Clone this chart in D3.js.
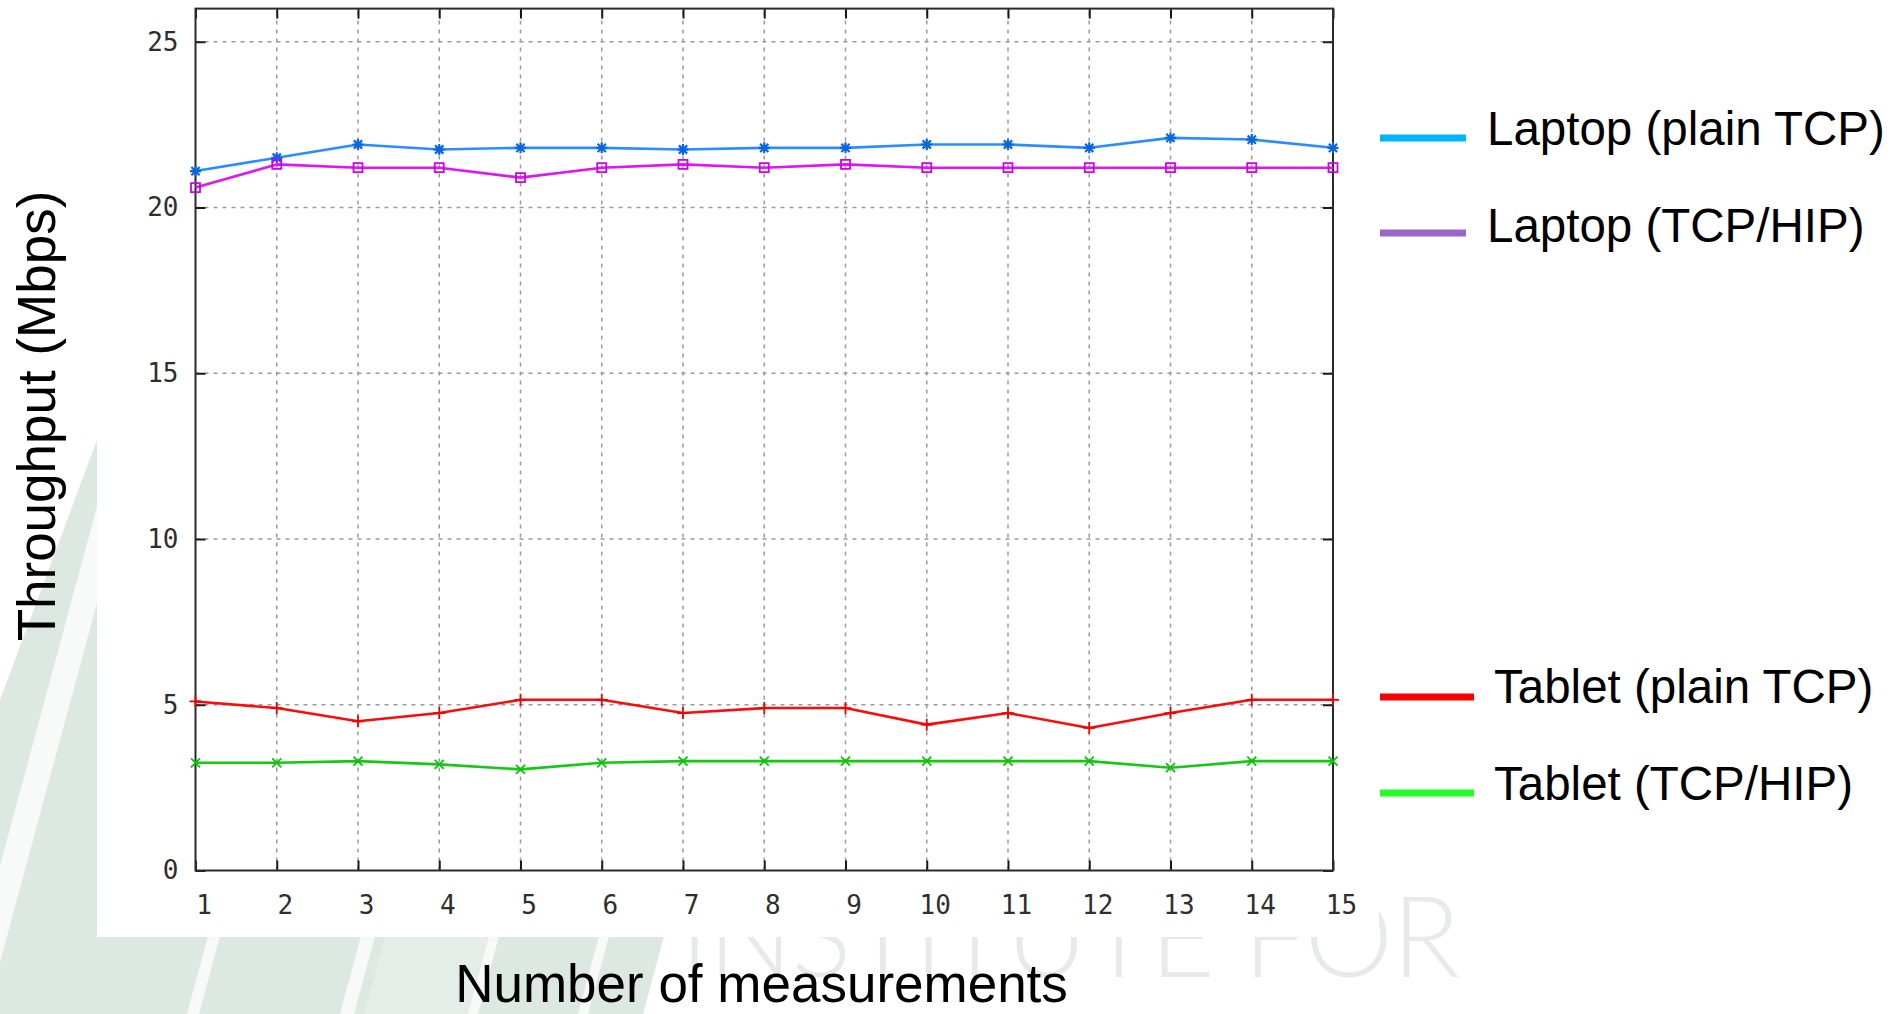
<!DOCTYPE html>
<html>
<head>
<meta charset="utf-8">
<script src="https://cdn.jsdelivr.net/npm/d3@7"></script>
<style>
  html, body { margin: 0; padding: 0; background: #ffffff; }
  svg { display: block; }
</style>
</head>
<body>
<svg id="chart" width="1903" height="1014"></svg>
<script>
// Measurement index (x axis)
const measurements = d3.range(1, 16);

// Throughput per measurement, Mbps
const laptopPlainTCP = [21.1, 21.5, 21.9, 21.75, 21.8, 21.8, 21.75, 21.8, 21.8, 21.9, 21.9, 21.8, 22.1, 22.05, 21.8];
const laptopTCPHIP   = [20.6, 21.3, 21.2, 21.2, 20.9, 21.2, 21.3, 21.2, 21.3, 21.2, 21.2, 21.2, 21.2, 21.2, 21.2];
const tabletPlainTCP = [5.1, 4.9, 4.5, 4.75, 5.15, 5.15, 4.75, 4.9, 4.9, 4.4, 4.75, 4.3, 4.75, 5.15, 5.15];
const tabletTCPHIP   = [3.25, 3.25, 3.3, 3.2, 3.05, 3.25, 3.3, 3.3, 3.3, 3.3, 3.3, 3.3, 3.1, 3.3, 3.3];

// Axis tick values
const yTicks = [0, 5, 10, 15, 20, 25];
const xTicks = measurements;

// Series names
const seriesNames = ["Laptop (plain TCP)", "Laptop (TCP/HIP)", "Tablet (plain TCP)", "Tablet (TCP/HIP)"];

const svg = d3.select("#chart");

// ---------- page backdrop: faint slanted stripes and lettering ----------
const bg = svg.append("g");
const paleGreen = "#dce8e1";
const slope = 0.27; // horizontal shift per pixel of height

// left column wedge
bg.append("path")
  .attr("d", "M97,440 L97,1014 L0,1014 L0,700 Z")
  .attr("fill", paleGreen);
// bottom band
bg.append("path")
  .attr("d", `M0,930 L${643 + slope * 84},930 L643,1014 L0,1014 Z`)
  .attr("fill", paleGreen);
// lighter section of the bottom band
bg.append("path")
  .attr("d", `M${364 + slope * 84},930 L${470 + slope * 84},930 L470,1014 L364,1014 Z`)
  .attr("fill", "#e4ede8");

// white slanted gaps between stripes: [x at bottom edge, width]
const gaps = [[-40, 26], [187, 12], [340, 14], [468, 10], [578, 10]];
gaps.forEach(([x0, w]) => {
  const yTop = 380, yBot = 1014, dx = slope * (yBot - yTop);
  bg.append("path")
    .attr("d", `M${x0},${yBot} L${x0 + w},${yBot} L${x0 + w + dx},${yTop} L${x0 + dx},${yTop} Z`)
    .attr("fill", "#f7faf8");
});

bg.append("text")
  .attr("x", 680).attr("y", 977)
  .attr("textLength", 780).attr("lengthAdjust", "spacing")
  .attr("font-family", "Lato, 'Open Sans', sans-serif")
  .attr("font-weight", 300)
  .attr("font-size", 112)
  .attr("fill", "#e7eae8")
  .text("INSTITUTE FOR");

// white panel behind the plot
svg.append("rect")
  .attr("x", 97).attr("y", 0)
  .attr("width", 1282).attr("height", 937)
  .attr("fill", "#ffffff");

// ---------- plot ----------
const plot = { left: 195.5, right: 1333, top: 8.6, bottom: 870.5 };

const x = d3.scaleLinear().domain([1, 15]).range([plot.left, plot.right]);
const y = d3.scaleLinear().domain([0, 26]).range([plot.bottom, plot.top]);

// dotted grid
const grid = svg.append("g")
  .attr("stroke", "#9a9a9a")
  .attr("stroke-width", 1.5)
  .attr("stroke-dasharray", "4,5");
grid.selectAll(".gx").data(xTicks.slice(1, -1)).join("line")
  .attr("x1", d => x(d)).attr("x2", d => x(d))
  .attr("y1", plot.bottom).attr("y2", plot.top);
grid.selectAll(".gy").data(yTicks.slice(1)).join("line")
  .attr("x1", plot.left).attr("x2", plot.right)
  .attr("y1", d => y(d)).attr("y2", d => y(d));

// axes (ticks pointing inwards on all four sides)
const tickFont = "'DejaVu Sans Mono', monospace";
const axisLeft = svg.append("g")
  .attr("transform", `translate(${plot.left},0)`)
  .call(d3.axisLeft(y).tickValues(yTicks).tickSize(-10).tickPadding(17));
const axisRight = svg.append("g")
  .attr("transform", `translate(${plot.right},0)`)
  .call(d3.axisRight(y).tickValues(yTicks).tickSize(-10).tickFormat(""));
const axisBottom = svg.append("g")
  .attr("transform", `translate(0,${plot.bottom})`)
  .call(d3.axisBottom(x).tickValues(xTicks).tickSize(-10).tickFormat(d3.format("d")));
const axisTop = svg.append("g")
  .attr("transform", `translate(0,${plot.top})`)
  .call(d3.axisTop(x).tickValues(xTicks).tickSize(-10).tickFormat(""));

[axisLeft, axisRight, axisBottom, axisTop].forEach(g => {
  g.select(".domain").remove();
  g.selectAll(".tick line").attr("stroke", "#1a1a1a").attr("stroke-width", 2);
  g.selectAll("text")
    .attr("font-family", tickFont)
    .attr("font-size", 26)
    .attr("fill", "#2e2e2e");
});
// unlabeled mirror axes need no text nodes
axisRight.selectAll("text").remove();
axisTop.selectAll("text").remove();
axisBottom.selectAll("text").attr("y", 43.5).attr("dy", 0).attr("dx", 8);

// frame
svg.append("rect")
  .attr("x", plot.left).attr("y", plot.top)
  .attr("width", plot.right - plot.left).attr("height", plot.bottom - plot.top)
  .attr("fill", "none").attr("stroke", "#2a2a2a").attr("stroke-width", 2);

// series
const series = [
  { name: seriesNames[0], values: laptopPlainTCP, line: "#2a8cff", mark: "#0a66e0", shape: "star",   key: "#00b4ff" },
  { name: seriesNames[1], values: laptopTCPHIP,   line: "#e014f4", mark: "#d000e8", shape: "square", key: "#9966cc" },
  { name: seriesNames[2], values: tabletPlainTCP, line: "#ff0a0a", mark: "#f00000", shape: "plus",   key: "#ff0000" },
  { name: seriesNames[3], values: tabletTCPHIP,   line: "#14c814", mark: "#10c010", shape: "cross",  key: "#22ff22" }
];

const line = d3.line()
  .x((v, i) => x(measurements[i]))
  .y(v => y(v));

const markPath = {
  plus:  r => `M${-r},0H${r}M0,${-r}V${r}`,
  cross: r => `M${-r},${-r}L${r},${r}M${-r},${r}L${r},${-r}`,
  star:  r => `M${-r},0H${r}M0,${-r}V${r}M${-r*0.75},${-r*0.75}L${r*0.75},${r*0.75}M${-r*0.75},${r*0.75}L${r*0.75},${-r*0.75}`,
  square: r => `M${-r},${-r}H${r}V${r}H${-r}Z`
};
const markSize = { plus: 6, cross: 4.5, star: 5.5, square: 4.5 };

series.forEach(s => {
  svg.append("path")
    .datum(s.values)
    .attr("fill", "none")
    .attr("stroke", s.line)
    .attr("stroke-width", 2.6)
    .attr("stroke-linejoin", "round")
    .attr("d", line);
  svg.append("g").selectAll("path")
    .data(s.values)
    .join("path")
    .attr("transform", (v, i) => `translate(${x(measurements[i])},${y(v)})`)
    .attr("d", markPath[s.shape](markSize[s.shape]))
    .attr("fill", "none")
    .attr("stroke", s.mark)
    .attr("stroke-width", s.shape === "star" ? 2.2 : 1.8);
});

// legend
const legendRows = [
  { y: 138, text: 145,   x1: 1380, x2: 1466, tx: 1487 },
  { y: 233, text: 241.5, x1: 1380, x2: 1466, tx: 1487 },
  { y: 697, text: 703,   x1: 1380, x2: 1474, tx: 1494 },
  { y: 793, text: 800,   x1: 1380, x2: 1474, tx: 1494 }
];
const legend = svg.append("g");
series.forEach((s, i) => {
  const r = legendRows[i];
  legend.append("line")
    .attr("x1", r.x1).attr("x2", r.x2)
    .attr("y1", r.y).attr("y2", r.y)
    .attr("stroke", s.key).attr("stroke-width", 7);
  legend.append("text")
    .attr("x", r.tx).attr("y", r.text)
    .attr("font-family", "'Liberation Sans', Arial, sans-serif")
    .attr("font-size", 47.5)
    .attr("fill", "#000")
    .text(s.name);
});

// axis titles
svg.append("text")
  .attr("x", 761.5).attr("y", 1002)
  .attr("text-anchor", "middle")
  .attr("font-family", "'Liberation Sans', Arial, sans-serif")
  .attr("font-size", 53)
  .attr("fill", "#000")
  .text("Number of measurements");

svg.append("text")
  .attr("transform", "translate(55,416) rotate(-90)")
  .attr("text-anchor", "middle")
  .attr("font-family", "'Liberation Sans', Arial, sans-serif")
  .attr("font-size", 53)
  .attr("fill", "#000")
  .text("Throughput (Mbps)");
</script>
</body>
</html>
